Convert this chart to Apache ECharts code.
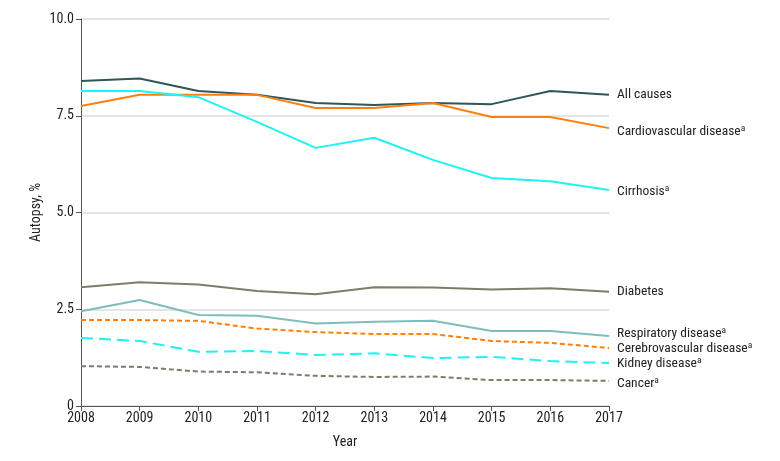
<!DOCTYPE html>
<html><head><meta charset="utf-8">
<script src="https://cdn.jsdelivr.net/npm/echarts@6/dist/echarts.min.js"></script>
<style>html,body{margin:0;padding:0;background:#fff}#c{width:780px;height:461px}</style>
</head><body><div id="c"></div>
<script>
const years = ['2008','2009','2010','2011','2012','2013','2014','2015','2016','2017'];
const yTicks = [0, 2.5, 5, 7.5, 10];
const allCauses = [8.40, 8.46, 8.14, 8.04, 7.83, 7.78, 7.83, 7.80, 8.14, 8.04];
const cardiovascular = [7.75, 8.04, 8.04, 8.04, 7.70, 7.70, 7.83, 7.47, 7.47, 7.18];
const cirrhosis = [8.14, 8.14, 7.98, 7.34, 6.67, 6.93, 6.36, 5.89, 5.81, 5.58];
const diabetes = [3.07, 3.20, 3.14, 2.97, 2.89, 3.07, 3.06, 3.01, 3.04, 2.95];
const respiratory = [2.45, 2.74, 2.35, 2.33, 2.13, 2.18, 2.20, 1.94, 1.94, 1.81];
const cerebrovascular = [2.22, 2.22, 2.20, 2.00, 1.91, 1.86, 1.86, 1.68, 1.63, 1.50];
const kidney = [1.76, 1.68, 1.40, 1.42, 1.32, 1.36, 1.24, 1.27, 1.16, 1.11];
const cancer = [1.03, 1.01, 0.89, 0.87, 0.78, 0.75, 0.76, 0.67, 0.67, 0.65];
const names = ['All causes','Cardiovascular disease','Cirrhosis','Diabetes','Respiratory disease','Cerebrovascular disease','Kidney disease','Cancer'];
const supA = [false,true,true,false,true,true,true,true];

const FONT = "'Roboto Condensed','DejaVu Sans Condensed',sans-serif";
const specs = [
  {d: allCauses, c:'#2e5757', t:'solid', dy:0},
  {d: cardiovascular, c:'#ff7f0e', t:'solid', dy:3},
  {d: cirrhosis, c:'#1ff2f2', t:'solid', dy:2},
  {d: diabetes, c:'#7d7d6a', t:'solid', dy:0},
  {d: respiratory, c:'#7fbcbc', t:'solid', dy:-2},
  {d: cerebrovascular, c:'#ff7f0e', t:[5,3], dy:1},
  {d: kidney, c:'#1ff2f2', t:[12,6], dy:1},
  {d: cancer, c:'#7d7d6a', t:[5,3], dy:3}
];
const series = specs.map((s,i)=>({
  name: names[i], type:'line', data: s.d, symbol:'none', silent:true,
  lineStyle:{color:s.c, width:2, type:s.t},
  endLabel:{show:true, distance:8, offset:[0, s.dy], color:'#222', fontFamily:FONT, fontSize:13.5,
    formatter: supA[i] ? names[i] + '{s|a}' : names[i],
    rich:{s:{fontSize:9.5, verticalAlign:'top', padding:[0,0,6,0], fontFamily:FONT, color:'#222'}}}
}));

const chart = echarts.init(document.getElementById('c'));
chart.setOption({
  animation:false,
  grid:{left:81, right:171, top:19, bottom:55, containLabel:false},
  xAxis:{type:'category', data:years, boundaryGap:false,
    name:'Year', nameLocation:'middle', nameGap:29,
    nameTextStyle:{fontFamily:FONT, fontSize:14, color:'#222'},
    axisLine:{lineStyle:{color:'#555', width:1}},
    axisTick:{show:true, length:5, lineStyle:{color:'#555'}},
    axisLabel:{fontFamily:FONT, fontSize:14, color:'#222', margin:5},
    splitLine:{show:false}},
  yAxis:{type:'value', min:yTicks[0], max:yTicks[yTicks.length-1], interval:2.5,
    name:'Autopsy, %', nameLocation:'middle', nameGap:38, nameMoveOverlap:false,
    nameTextStyle:{fontFamily:FONT, fontSize:14, color:'#222'},
    axisLine:{show:true, lineStyle:{color:'#555', width:1}},
    axisTick:{show:true, length:5, lineStyle:{color:'#555'}},
    axisLabel:{fontFamily:FONT, fontSize:14, color:'#222', margin:7,
      formatter:v=> v===0 ? '0' : v.toFixed(1)},
    splitLine:{show:true, lineStyle:{color:'#dcdcdc', width:1.5}}},
  series: series
});
</script></body></html>
